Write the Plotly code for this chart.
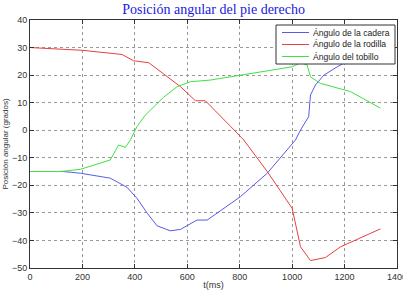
import plotly.graph_objects as go

# Hip (cadera)
t_hip = [116, 192, 306, 370, 408, 447, 485, 535, 574, 637, 676, 764, 803, 905, 987, 1013, 1032, 1063, 1070, 1089, 1121, 1172, 1230]
hip = [-14.9, -15.6, -17.4, -20.7, -24.7, -30.1, -34.7, -36.5, -36.0, -32.6, -32.6, -26.5, -24.1, -15.6, -6.6, -3.5, 0.1, 4.9, 12.8, 16.4, 20.0, 23.0, 26.0]

# Knee (rodilla)
t_knee = [0, 200, 320, 351, 395, 453, 510, 574, 631, 669, 764, 815, 905, 1000, 1032, 1070, 1127, 1185, 1337]
knee = [30.0, 29.0, 27.8, 27.5, 25.2, 24.5, 20.4, 15.8, 10.7, 10.7, 1.5, -3.5, -15.0, -28.3, -42.3, -47.3, -46.2, -42.3, -35.8]

# Ankle (tobillo)
t_ankle = [0, 116, 192, 306, 338, 364, 383, 408, 440, 510, 561, 612, 688, 764, 803, 1000, 1032, 1057, 1070, 1108, 1223, 1337]
ankle = [-15.0, -15.0, -14.2, -10.8, -5.4, -6.2, -3.5, 1.3, 5.5, 12.0, 15.8, 17.6, 18.2, 19.4, 19.8, 23.0, 24.5, 23.7, 19.4, 17.0, 14.0, 8.0]

names = ["Ángulo de la cadera", "Ángulo de la rodilla", "Ángulo del tobillo"]
colors = ["#5a5ae6", "#e84040", "#40e040"]
x_ticks = [0, 200, 400, 600, 800, 1000, 1200, 1400]
y_ticks = [-50, -40, -30, -20, -10, 0, 10, 20, 30, 40]

W, H = 403, 290
L, R, T, B = 30, 6, 20, 22
PW, PH = W - L - R, H - T - B

def px(x):
    return (x - L) / PW

def py(y):
    return 1 - (y - T) / PH

fig = go.Figure()
for tx, ty, nm, c in zip([t_hip, t_knee, t_ankle], [hip, knee, ankle], names, colors):
    fig.add_trace(go.Scatter(x=tx, y=ty, mode="lines", name=nm,
                             line=dict(color=c, width=1), showlegend=False))

# Manual legend box (MATLAB-style compact legend)
fig.add_shape(type="rect", xref="paper", yref="paper",
              x0=px(276), x1=px(395), y0=py(64), y1=py(25),
              fillcolor="white", line=dict(color="#333333", width=1), layer="above")
rows = [32.5, 44.5, 56.5]
for nm, c, ry in zip(names, colors, rows):
    fig.add_shape(type="line", xref="paper", yref="paper",
                  x0=px(282), x1=px(309), y0=py(ry), y1=py(ry),
                  line=dict(color=c, width=1), layer="above")
    fig.add_annotation(text=nm, xref="paper", yref="paper", x=px(311), y=py(ry),
                       xanchor="left", yanchor="middle", showarrow=False,
                       font=dict(family="Arial, Liberation Sans", size=8.6, color="#222222"))

axis_common = dict(showgrid=True, gridcolor="#999999", griddash="dot", gridwidth=1,
                   showline=True, linecolor="#333333", linewidth=1, mirror="ticks",
                   ticks="inside", ticklen=4, tickcolor="#333333", zeroline=False,
                   automargin=False, ticklabeloverflow="allow",
                   tickfont=dict(family="Arial, Liberation Sans", size=9, color="#333333"))

fig.update_layout(
    width=W, height=H,
    margin=dict(l=L, r=R, t=T, b=B),
    paper_bgcolor="white", plot_bgcolor="white",
    title=dict(text="Posición angular del pie derecho", x=0.53, xanchor="center",
               y=0.985, yanchor="top",
               font=dict(family="Liberation Serif, Times New Roman", size=14, color="#2020dd")),
    xaxis=dict(range=[0, 1400], tickvals=x_ticks,
               title=dict(text="t(ms)", standoff=0,
                          font=dict(family="Arial, Liberation Sans", size=9, color="#333333")),
               **axis_common),
    yaxis=dict(range=[-50, 40], tickvals=y_ticks,
               title=dict(text="Posición angular (grados)", standoff=2,
                          font=dict(family="Arial, Liberation Sans", size=8, color="#333333")),
               **axis_common),
    showlegend=False,
)

fig.write_html("out.html")
